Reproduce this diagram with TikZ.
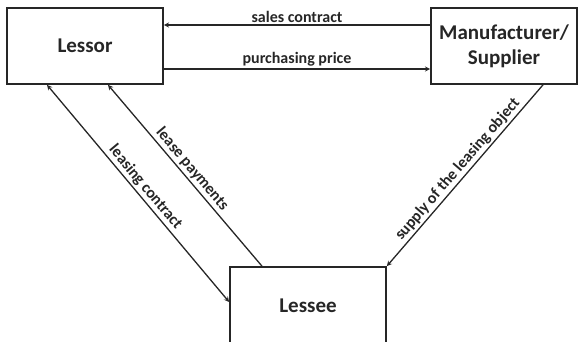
\documentclass[tikz,border=0pt]{standalone}
\usepackage{fontspec}
\setmainfont{Carlito}
\usepackage{tikz}
\usetikzlibrary{shapes.geometric, arrows}
\usetikzlibrary{positioning}
\tikzstyle{party} = [rectangle, minimum width=156pt, minimum height=76pt, align=center, draw=black!85, line width=1.7pt, font=\fontsize{21}{25}\selectfont\bfseries, text=black!85]
\tikzstyle{arrow} = [line width=1.3pt, draw=black!85, ->, >=stealth]
\tikzstyle{flow} = [font=\fontsize{16}{18}\selectfont\bfseries, inner sep=2pt, text=black!85]

\begin{document}
\begin{tikzpicture}[x=1pt,y=-1pt]
\useasboundingbox (0,0) rectangle (578,341);
\node (lessor) [party] at (85,46) {Lessor};
\node (supplier) [party, minimum width=146pt] at (504,46) {Manufacturer/\\Supplier};
\node (lessee) [party, minimum height=78pt] at (308,306) {Lessee};
\draw [arrow] ([yshift=21pt]supplier.west) -- node [above, flow] {sales contract} ([yshift=21pt]lessor.east);
\draw [arrow] ([yshift=-23pt]lessor.east) -- node [above, flow] {purchasing price} ([yshift=-23pt]supplier.west);
\draw [arrow, <->] ([xshift=-38pt]lessor.south) -- node [above, sloped, flow] {leasing contract} ([yshift=4pt]lessee.west);
\draw [arrow] ([xshift=-46pt]lessee.north) -- node [above, sloped, flow] {lease payments} ([xshift=23pt]lessor.south);
\draw [arrow] ([xshift=39pt]supplier.south) -- node [above, sloped, flow] {supply of the leasing object} (lessee.north east);
\end{tikzpicture}
\end{document}
